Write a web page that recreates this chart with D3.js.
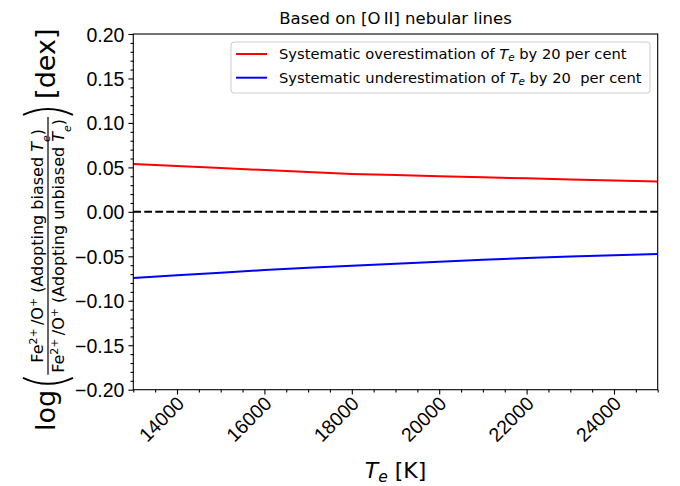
<!DOCTYPE html>
<html>
<head>
<meta charset="utf-8">
<script src="https://cdn.jsdelivr.net/npm/d3@7"></script>
<style>
  body { margin: 0; background: #fff; }
  svg { font-family: "DejaVu Sans", sans-serif; }
</style>
</head>
<body>
<div id="chart"></div>
<script>
// electron temperature grid (K)
var temps = [13000, 14000, 15000, 16000, 17000, 18000, 19000, 20000, 21000, 22000, 23000, 24000, 25000];
// log ratio when Te is overestimated by 20 per cent
var overEst = [0.0537, 0.0515, 0.0493, 0.0470, 0.0447, 0.0425, 0.0413, 0.0400, 0.0388, 0.0377, 0.0365, 0.0353, 0.0342];
// log ratio when Te is underestimated by 20 per cent
var underEst = [-0.0745, -0.0714, -0.0684, -0.0655, -0.0630, -0.0606, -0.0583, -0.0562, -0.0540, -0.0518, -0.0503, -0.0489, -0.0475];

var xTicks = [14000, 16000, 18000, 20000, 22000, 24000];
var yTicks = [-0.20, -0.15, -0.10, -0.05, 0.00, 0.05, 0.10, 0.15, 0.20];

var svgWidth = 680;
var svgHeight = 486;

var margin = { top: 34, right: 22.3, bottom: 96.3, left: 133.3 };
var width = svgWidth - margin.left - margin.right;
var height = svgHeight - margin.top - margin.bottom;

var svg = d3.select("#chart")
  .append("svg")
  .attr("width", svgWidth)
  .attr("height", svgHeight);

var chartGroup = svg.append("g")
  .attr("transform", `translate(${margin.left}, ${margin.top})`);

var xScale = d3.scaleLinear().domain([13000, 25000]).range([0, width]);
var yScale = d3.scaleLinear().domain([-0.2, 0.2]).range([height, 0]);

// minor ticks
var xMinor = d3.range(13000, 25001, 500).filter(d => xTicks.indexOf(d) < 0);
var yMinor = d3.range(-20, 21, 1).map(d => d / 100).filter(d => Math.round(d * 100) % 5 !== 0);

chartGroup.append("g")
  .attr("transform", `translate(0, ${height})`)
  .call(d3.axisBottom(xScale).tickValues(xMinor).tickSize(2.8).tickFormat(""))
  .call(g => g.select(".domain").remove());

chartGroup.append("g")
  .call(d3.axisLeft(yScale).tickValues(yMinor).tickSize(2.8).tickFormat(""))
  .call(g => g.select(".domain").remove());

var bottomAxis = d3.axisBottom(xScale).tickValues(xTicks).tickSize(4.9).tickPadding(3).tickFormat(d3.format("d"));
var leftAxis = d3.axisLeft(yScale).tickValues(yTicks).tickSize(4.9).tickPadding(4)
  .tickFormat(d => d3.format(".2f")(d).replace("-", "\u2212"));

var xAxisG = chartGroup.append("g")
  .attr("transform", `translate(0, ${height})`)
  .call(bottomAxis);
xAxisG.select(".domain").remove();
xAxisG.selectAll("text")
  .attr("font-size", "19.5px")
  .attr("fill", "#000")
  .attr("text-anchor", "end")
  .attr("dy", null)
  .attr("y", null)
  .attr("transform", "translate(8, 15) rotate(-45)");

var yAxisG = chartGroup.append("g").call(leftAxis);
yAxisG.select(".domain").remove();
yAxisG.selectAll("text")
  .attr("font-size", "19.5px")
  .attr("fill", "#000")
  .attr("dy", "0.36em");

chartGroup.selectAll(".tick line").attr("stroke", "#000").attr("stroke-width", 1.1);

// zero reference
chartGroup.append("line")
  .attr("x1", 0).attr("x2", width)
  .attr("y1", yScale(0)).attr("y2", yScale(0))
  .attr("stroke", "#000")
  .attr("stroke-width", 2)
  .attr("stroke-dasharray", "7.7,3.3");

var line = d3.line()
  .x((d, i) => xScale(temps[i]))
  .y(d => yScale(d));

chartGroup.append("path")
  .datum(overEst)
  .attr("d", line)
  .attr("fill", "none")
  .attr("stroke", "#ff0000")
  .attr("stroke-width", 2);

chartGroup.append("path")
  .datum(underEst)
  .attr("d", line)
  .attr("fill", "none")
  .attr("stroke", "#0000ff")
  .attr("stroke-width", 2);

// frame
chartGroup.append("rect")
  .attr("width", width)
  .attr("height", height)
  .attr("fill", "none")
  .attr("stroke", "#000")
  .attr("stroke-width", 1.1);

// title
svg.append("text")
  .attr("x", margin.left + width / 2)
  .attr("y", 24)
  .attr("text-anchor", "middle")
  .attr("font-size", "16.5px")
  .text("Based on [O\u2009II] nebular lines");

// legend
var legend = svg.append("g").attr("transform", "translate(231, 42)");
legend.append("rect")
  .attr("width", 419).attr("height", 51)
  .attr("rx", 3)
  .attr("fill", "#fff")
  .attr("stroke", "#cccccc")
  .attr("stroke-width", 1);

var legendItems = [
  { color: "#ff0000", pre: "Systematic overestimation of ", post: " by 20 per cent" },
  { color: "#0000ff", pre: "Systematic underestimation of ", post: " by 20\u00a0 per cent" }
];
legendItems.forEach(function(item, i) {
  var yy = 12 + i * 23.7;
  legend.append("line")
    .attr("x1", 5).attr("x2", 36)
    .attr("y1", yy).attr("y2", yy)
    .attr("stroke", item.color)
    .attr("stroke-width", 2);
  var t = legend.append("text")
    .attr("x", 48)
    .attr("y", yy + 5)
    .attr("font-size", "14.7px");
  t.append("tspan").text(item.pre);
  t.append("tspan").attr("font-style", "italic").text("T");
  t.append("tspan").attr("font-style", "italic").attr("font-size", "10.3px").attr("baseline-shift", "-20%").text("e");
  t.append("tspan").text(item.post);
});

// x label
var xLab = svg.append("text")
  .attr("x", margin.left + width / 2)
  .attr("y", 478)
  .attr("text-anchor", "middle")
  .attr("font-size", "22px");
xLab.append("tspan").attr("font-style", "italic").text("T");
xLab.append("tspan").attr("font-style", "italic").attr("font-size", "15.5px").attr("baseline-shift", "-25%").text("e");
xLab.append("tspan").text(" [K]");

// y label, built along the rotated axis from bottom to top
var yl = svg.append("g").attr("transform", "rotate(-90)");
var axisV = 48;   // screen x of the fraction bar
var cursor = -431; // rotated coordinate (= -screen y)

var logT = yl.append("text")
  .attr("x", cursor).attr("y", axisV + 7)
  .attr("font-size", "27px")
  .text("log");
cursor += logT.node().getComputedTextLength() + 3;

function paren(u, open) {
  var w = 9;
  var p = open
    ? `M${u + w},${axisV - 25} Q${u - 3},${axisV} ${u + w},${axisV + 25}`
    : `M${u},${axisV - 25} Q${u + w + 3},${axisV} ${u},${axisV + 25}`;
  yl.append("path").attr("d", p).attr("fill", "none").attr("stroke", "#000").attr("stroke-width", 2);
}
paren(cursor, true);
cursor += 12;

function fracText(y, extra) {
  var t = yl.append("text").attr("y", y).attr("font-size", "16px");
  t.append("tspan").text("Fe");
  t.append("tspan").attr("font-size", "11px").attr("baseline-shift", "super").text("2+");
  t.append("tspan").text("\u2009/O");
  t.append("tspan").attr("font-size", "11px").attr("baseline-shift", "super").text("+");
  t.append("tspan").text(" (Adopting " + extra + "biased ");
  t.append("tspan").attr("font-style", "italic").text("T");
  t.append("tspan").attr("font-style", "italic").attr("font-size", "11px").attr("baseline-shift", "sub").text("e");
  t.append("tspan").text(")");
  return t;
}
var num = fracText(axisV - 5, "");
var den = fracText(axisV + 16, "un");
var fracLen = den.node().getComputedTextLength() + 4;
var mid = cursor + fracLen / 2;
num.attr("x", mid).attr("text-anchor", "middle");
den.attr("x", mid).attr("text-anchor", "middle");
yl.append("line")
  .attr("x1", cursor).attr("x2", cursor + fracLen)
  .attr("y1", axisV).attr("y2", axisV)
  .attr("stroke", "#000").attr("stroke-width", 1.2);
cursor += fracLen + 2;
paren(cursor, false);
cursor += 16;

yl.append("text")
  .attr("x", cursor).attr("y", axisV + 7)
  .attr("font-size", "27px")
  .text("[dex]");
</script>
</body>
</html>
